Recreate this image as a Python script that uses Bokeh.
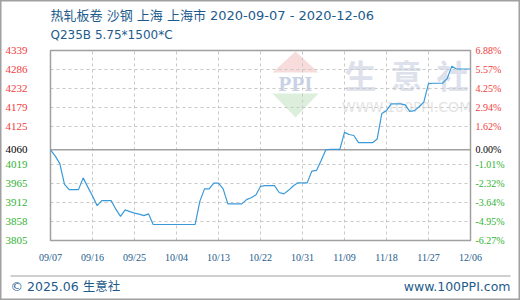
import pandas as pd
from bokeh.plotting import figure
from bokeh.models import (Range1d, LabelSet, Label, ColumnDataSource, BoxAnnotation, PolyAnnotation)
from bokeh.embed import file_html
from bokeh.resources import INLINE

# ---------------- data ----------------
start_date = "2020-09-07"
end_date = "2020-12-06"
prices = [
    4060, 4043, 4021, 3963, 3948, 3948, 3948, 3981, 3955, 3930,
    3903, 3917, 3917, 3917, 3893, 3873, 3891, 3886, 3882, 3879,
    3875, 3880, 3850, 3850, 3850, 3850, 3850, 3850, 3850, 3850,
    3850, 3850, 3915, 3950, 3950, 3966, 3966, 3950, 3908, 3908,
    3908, 3908, 3920, 3925, 3933, 3957, 3959, 3959, 3959, 3940,
    3936, 3946, 3958, 3967, 3967, 3967, 4000, 4002, 4030, 4060,
    4061, 4061, 4061, 4109, 4103, 4100, 4080, 4080, 4080, 4080,
    4090, 4162, 4170, 4189, 4189, 4189, 4186, 4168, 4170, 4181,
    4194, 4246, 4247, 4247, 4247, 4260, 4295, 4287, 4287, 4287,
    4287,
]
base_price = 4060
y_min, y_max = 3805, 4339
y_grid_ticks = [3858.4, 3911.8, 3965.2, 4018.6, 4125.4, 4178.8, 4232.2, 4285.6]
y_label_vals = [3805, 3858.4, 3911.8, 3965.2, 4018.6, 4060, 4125.4, 4178.8, 4232.2, 4285.6, 4339]
left_labels = ["3805", "3858", "3912", "3965", "4019", "4060", "4125", "4179", "4232", "4286", "4339"]
right_labels = ["-6.27%", "-4.95%", "-3.64%", "-2.32%", "-1.01%", "0.00%", "1.62%", "2.94%", "4.25%", "5.57%", "6.88%"]
x_tick_dates = ["2020-09-07", "2020-09-16", "2020-09-25", "2020-10-04", "2020-10-13", "2020-10-22",
                "2020-10-31", "2020-11-09", "2020-11-18", "2020-11-27", "2020-12-06"]
x_tick_labels = ["09/07", "09/16", "09/25", "10/04", "10/13", "10/22",
                 "10/31", "11/09", "11/18", "11/27", "12/06"]
title_line1 = "热轧板卷 沙钢 上海 上海市 2020-09-07 - 2020-12-06"
title_line2 = "Q235B 5.75*1500*C"
footer_left = "© 2025.06 生意社"
footer_right = "www.100PPI.com"

# ---------------- layout / colors ----------------
W, H = 520, 300
PL, PR, PT, PB = 50, 470, 50, 240   # plot area in canvas pixels
BLUE_TXT = "#1d5b8c"
RED = "#f03c3c"
GREEN = "#33b233"
LINE = "#3a9ad9"
GRID = "#c8c8c8"
FRAME = "#a0a0a0"
TXT_FONT = "DejaVu Sans, Noto Sans CJK SC"

t0, t1 = pd.Timestamp(start_date), pd.Timestamp(end_date)
xpp = (t1 - t0) / (PR - PL)
ypp = (y_max - y_min) / (PB - PT)
x_range = Range1d(t0 - PL * xpp, t1 + (W - PR) * xpp)
y_range = Range1d(y_min - (H - PB) * ypp, y_max + PT * ypp)

dates = pd.date_range(start_date, end_date, freq="D")
src = ColumnDataSource(dict(x=dates, y=prices))
xt = [pd.Timestamp(d) for d in x_tick_dates]

p = figure(width=W, height=H, output_backend="svg", toolbar_location=None,
           x_axis_type="datetime", x_axis_location=None, y_axis_location=None,
           x_range=x_range, y_range=y_range, min_border=0,
           background_fill_color="white", border_fill_color="white")
p.outline_line_color = FRAME
p.outline_line_width = 2
p.xgrid.visible = False
p.ygrid.visible = False

# watermark (below grid)
p.add_layout(PolyAnnotation(xs=[272, 318, 295], ys=[72, 72, 51], xs_units="canvas", ys_units="canvas",
                            fill_color="#f8dcdc", fill_alpha=1, line_color=None, level="image"))
p.add_layout(PolyAnnotation(xs=[272, 318, 295], ys=[93, 93, 117], xs_units="canvas", ys_units="canvas",
                            fill_color="#dcefdc", fill_alpha=1, line_color=None, level="image"))
p.add_layout(Label(x=295, y=83, x_units="canvas", y_units="canvas", text="PPI", text_align="center",
                   text_baseline="middle", text_font="Liberation Serif", text_font_size="21px",
                   text_font_style="bold", text_color="#c9d1e6", level="image"))
for ch, cx in zip("生意社", [360, 406, 452]):
    p.add_layout(Label(x=cx, y=73, x_units="canvas", y_units="canvas", text=ch, text_align="center",
                       text_baseline="middle", text_font="Noto Sans CJK SC", text_font_size="32px",
                       text_font_style="bold", text_color="#dde1ec", level="image"))
p.add_layout(Label(x=406, y=106, x_units="canvas", y_units="canvas", text="WWW.100PPI.COM",
                   text_align="center", text_baseline="middle", text_font="DejaVu Sans",
                   text_font_size="14px", text_color="#e4e4e4", level="image"))

# grid lines
p.segment(x0=xt[1:-1], x1=xt[1:-1], y0=[y_min] * (len(xt) - 2), y1=[y_max] * (len(xt) - 2),
          line_color=GRID, line_dash="3 3", line_width=1)
p.segment(x0=[t0] * len(y_grid_ticks), x1=[t1] * len(y_grid_ticks), y0=y_grid_ticks, y1=y_grid_ticks,
          line_color=GRID, line_dash="3 3", line_width=1)
p.segment(x0=[t0], x1=[t1], y0=[base_price], y1=[base_price], line_color=FRAME, line_width=1.5)
p.quad(left=[t0], right=[t1], bottom=[y_min], top=[y_max], fill_color=None,
       line_color=FRAME, line_width=1.5)

# price line
p.line("x", "y", source=src, line_color=LINE, line_width=1.2)

# y labels (left: price, right: percent)
lcolors = [GREEN] * 5 + ["black"] + [RED] * 5
lab_src = ColumnDataSource(dict(y=y_label_vals, lt=left_labels, rt=right_labels, c=lcolors))
p.add_layout(LabelSet(x=5, y="y", x_units="canvas", text="lt", source=lab_src, text_color="c",
                      text_align="left", text_baseline="middle", text_font="Liberation Sans",
                      text_font_size="11px"))
p.add_layout(LabelSet(x=475, y="y", x_units="canvas", text="rt", source=lab_src, text_color="c",
                      text_align="left", text_baseline="middle", text_font="DejaVu Sans Mono",
                      text_font_size="10px"))

# x labels
xl_src = ColumnDataSource(dict(x=xt, t=x_tick_labels))
p.add_layout(LabelSet(x="x", y=257, y_units="canvas", text="t", source=xl_src, text_color=BLUE_TXT,
                      text_align="center", text_baseline="middle", text_font="DejaVu Sans Mono",
                      text_font_size="10px"))

# titles
p.add_layout(Label(x=50, y=15, x_units="canvas", y_units="canvas", text=title_line1,
                   text_baseline="middle", text_font=TXT_FONT, text_font_size="13px",
                   text_color=BLUE_TXT))
p.add_layout(Label(x=50, y=34, x_units="canvas", y_units="canvas", text=title_line2,
                   text_baseline="middle", text_font=TXT_FONT, text_font_size="12px",
                   text_color=BLUE_TXT))

# footer
p.add_layout(BoxAnnotation(left=10, right=510, top=275, bottom=276, left_units="canvas",
                           right_units="canvas", top_units="canvas", bottom_units="canvas",
                           fill_color="#a0a0a0", fill_alpha=1, line_color=None))
p.add_layout(Label(x=10, y=286, x_units="canvas", y_units="canvas", text=footer_left,
                   text_baseline="middle", text_font=TXT_FONT, text_font_size="12.5px",
                   text_color=BLUE_TXT))
p.add_layout(Label(x=510, y=286, x_units="canvas", y_units="canvas", text=footer_right,
                   text_align="right", text_baseline="middle", text_font=TXT_FONT,
                   text_font_size="12.5px", text_color=BLUE_TXT))

open("out.html", "w").write(file_html(p, INLINE))
